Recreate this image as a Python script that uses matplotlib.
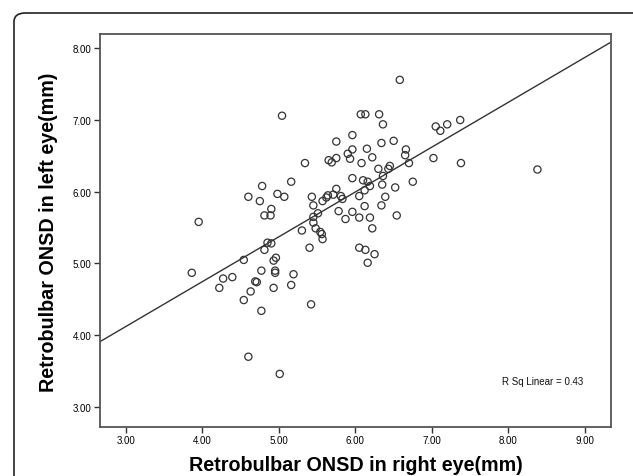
import matplotlib
matplotlib.use("Agg")
import matplotlib.pyplot as plt
import numpy as np
from matplotlib.patches import FancyBboxPatch

# Retrobulbar ONSD (mm)
right_eye = [
    5.04, 5.34, 5.65, 5.69, 5.16, 4.78, 4.60, 4.75, 4.98, 5.07,
    5.43, 5.45, 4.90, 4.81, 4.89, 5.57, 5.62, 5.64, 5.45, 5.51,
    3.95, 6.58, 6.07, 6.13, 6.31, 6.36, 5.75, 5.96, 6.34, 6.50,
    7.05, 7.11, 7.20, 7.37, 7.02, 7.38, 6.66, 6.65, 6.70, 6.75,
    6.52, 6.45, 6.43, 6.30, 6.36, 6.35, 6.39, 6.34, 6.54, 6.22,
    6.15, 6.08, 5.96, 5.93, 5.90, 5.75, 5.96, 6.10, 6.16, 6.19,
    6.12, 6.05, 6.12, 5.96, 6.05, 6.19, 5.78, 5.87, 5.75, 5.71,
    5.81, 5.83, 3.86, 4.22, 4.27, 4.39, 4.54, 4.54, 4.63, 4.69,
    4.71, 4.77, 4.77, 4.60, 4.81, 4.85, 4.90, 4.93, 4.96, 4.95,
    4.95, 4.93, 5.16, 5.19, 5.30, 5.40, 5.42, 5.45, 5.48, 5.54,
    5.56, 5.57, 5.01, 6.22, 6.05, 6.13, 6.25, 6.16, 8.38,
]
left_eye = [
    7.06, 6.40, 6.44, 6.41, 6.14, 6.08, 5.93, 5.87, 5.97, 5.93,
    5.93, 5.81, 5.76, 5.67, 5.67, 5.87, 5.92, 5.95, 5.65, 5.70,
    5.58, 7.56, 7.08, 7.08, 7.08, 6.94, 6.70, 6.79, 6.68, 6.71,
    6.91, 6.85, 6.94, 7.00, 6.47, 6.40, 6.59, 6.51, 6.40, 6.14,
    6.06, 6.36, 6.32, 6.32, 6.22, 6.10, 5.93, 5.81, 5.67, 6.48,
    6.60, 6.40, 6.59, 6.46, 6.53, 6.47, 6.19, 6.16, 6.14, 6.08,
    6.02, 5.94, 5.80, 5.72, 5.64, 5.64, 5.73, 5.62, 6.04, 5.96,
    5.94, 5.90, 4.87, 4.66, 4.79, 4.81, 5.05, 4.49, 4.61, 4.75,
    4.74, 4.90, 4.34, 3.70, 5.19, 5.29, 5.28, 5.04, 5.08, 4.90,
    4.87, 4.66, 4.70, 4.85, 5.46, 5.22, 4.43, 5.57, 5.49, 5.44,
    5.41, 5.34, 3.46, 5.49, 5.22, 5.19, 5.13, 5.01, 6.31,
]

x_ticks = [3, 4, 5, 6, 7, 8, 9]
y_ticks = [3, 4, 5, 6, 7, 8]
r_sq_label = "R Sq Linear = 0.43"

plt.rcParams["font.family"] = ["Liberation Sans", "DejaVu Sans"]

fig = plt.figure(figsize=(6.33, 4.77), dpi=100)
ax = fig.add_axes([0.158, 0.1027, 0.807, 0.824])

# rounded outer frame, cut off at the right and bottom edges
W, H = 633, 477
frame = FancyBboxPatch(
    (14 / W, -0.1), (W + 20) / W, (H - 14) / H + 0.1,
    boxstyle="round,pad=0,rounding_size=0.018",
    transform=fig.transFigure, facecolor="none",
    edgecolor="#222222", linewidth=1.2, zorder=0,
)
fig.patches.append(frame)

x = np.array(right_eye)
y = np.array(left_eye)
ax.scatter(x, y, s=27, facecolors="none", edgecolors="#333333",
           linewidths=0.9, zorder=3)

# least-squares fit line across the full x range
slope, intercept = np.polyfit(x, y, 1)
xlim = (2.66, 9.34)
xs = np.array(xlim)
ax.plot(xs, slope * xs + intercept, color="#333333", linewidth=1.0, zorder=2)

ax.set_xlim(*xlim)
ax.set_ylim(2.72, 8.2)
ax.set_xticks(x_ticks)
ax.set_yticks(y_ticks)
ax.set_xticklabels([f"{v:.2f}" for v in x_ticks])
ax.set_yticklabels([f"{v:.2f}" for v in y_ticks])
ax.tick_params(labelsize=7, length=4, width=1.0, color="#333333", pad=2)

for side in ("left", "right", "top", "bottom"):
    ax.spines[side].set_color("#555555")
    ax.spines[side].set_linewidth(1.3)

ax.set_xlabel("Retrobulbar ONSD in right eye(mm)", fontsize=14.2,
              fontweight="bold")
ax.set_ylabel("Retrobulbar ONSD in left eye(mm)", fontsize=14.2,
              fontweight="bold")
ax.xaxis.set_label_coords(0.5, -0.072)
ax.yaxis.set_label_coords(-0.082, 0.497)

ax.text(0.787, 0.118, r_sq_label, transform=ax.transAxes, fontsize=7,
        ha="left", va="center", color="#111111")

fig.savefig("out.png", dpi=100)
